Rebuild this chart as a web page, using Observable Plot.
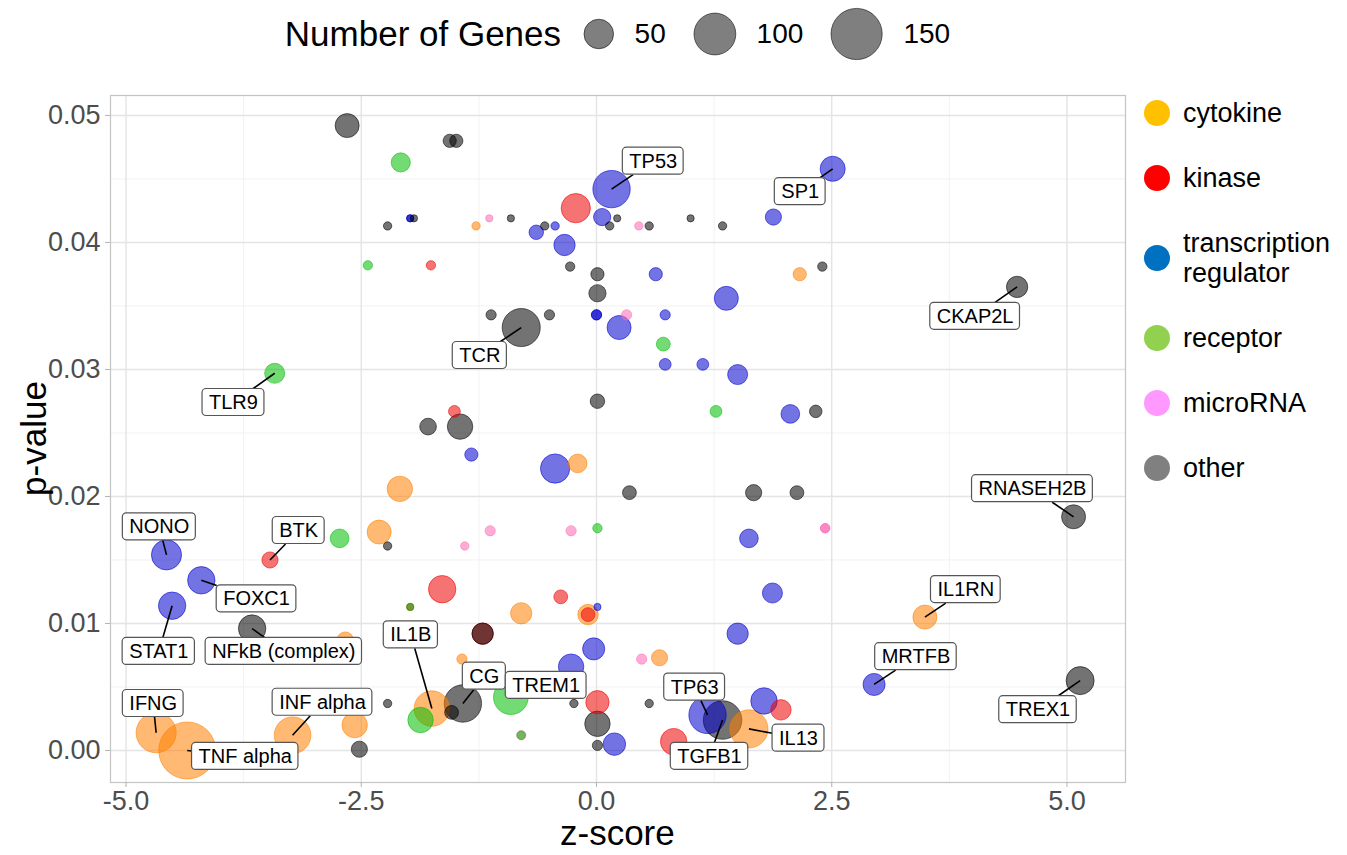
<!DOCTYPE html>
<html>
<head>
<meta charset="utf-8">
<script src="https://cdn.jsdelivr.net/npm/d3@7"></script>
<script src="https://cdn.jsdelivr.net/npm/@observablehq/plot@0.6"></script>
<style>
  body { margin: 0; background: #fff; font-family: "Liberation Sans", Arial, sans-serif; }
  #wrap { position: relative; width: 1347px; height: 855px; overflow: hidden; background: #fff; }
  #sizeLegend { position: absolute; left: 110px; width: 1015px; top: 0; height: 68px; display: flex; align-items: center; justify-content: center; }
  #sizeLegend .title { font-size: 35px; color: #000; }
  #sizeLegend .lab { font-size: 28px; color: #000; margin-left: 20px; }
  #sizeLegend svg { display: block; }
  #chart { position: absolute; left: 0; top: 70px; }
  #colorLegend { position: absolute; left: 1144px; top: 80px; }
  #colorLegend .item { display: flex; align-items: center; padding: 17.5px 0; }
  #colorLegend .sw { width: 26px; height: 26px; border-radius: 50%; flex: none; }
  #colorLegend .txt { font-size: 27px; line-height: 30px; margin-left: 13px; color: #000; }
  .axTitle { position: absolute; font-size: 35px; line-height: 35px; color: #000; white-space: nowrap; }
</style>
</head>
<body>
<div id="wrap">
  <div id="sizeLegend"></div>
  <div id="chart"></div>
  <div id="colorLegend"></div>
  <div class="axTitle" id="xTitle">z-score</div>
  <div class="axTitle" id="yTitle">p-value</div>
</div>
<script>
// ---------------- data ----------------
const categoryNames = ["cytokine", "kinase", "transcription regulator", "receptor", "microRNA", "other"];
const categoryCodes = ["C", "K", "T", "R", "M", "O"];
const pointColors  = ["#FF8000", "#EE0000", "#0000CD", "#00BE00", "#FF69B4", "#000000"];
const legendColors = ["#FFC000", "#FF0000", "#0070C0", "#92D050", "#FF99FF", "#808080"];
const legendLabels = ["cytokine", "kinase", "transcription\nregulator", "receptor", "microRNA", "other"];

const zScore = [
  -2.65, -1.56, -1.49, -2.08, 0.16, -0.22, 0.06, 2.51, 1.88, -2.22,
  -1.98, -1.98, -1.94, -1.28, -1.14, -0.91, -0.55, -0.44, -0.64, 0.14,
  0.22, 0.45, 0.56, 1.00, 1.34, -0.34, -2.43, -1.76, -0.28, 2.40,
  0.01, 0.63, 2.16, 0.01, 1.38, 4.47, -1.12, -0.50, 0.00, 0.00,
  0.32, 0.73, -0.80, 0.24, 0.71, 0.73, 1.13, 1.50, -3.42, 0.01,
  -1.51, 1.27, 2.06, 2.33, -1.79, -1.45, -1.33, -0.44, -0.20, -2.09,
  0.35, 1.67, 2.13, 5.07, -2.73, -2.31, -2.22, -1.13, -1.40, -0.27,
  0.01, 1.62, 2.43, 2.43, -4.57, -3.47, -4.20, -4.51, -1.64, 1.87,
  -1.98, -1.98, -0.38, -0.80, -0.09, -0.09, 0.01, 3.49, -3.66, -2.67,
  -1.21, -1.21, 1.50, -0.03, -1.43, 0.48, 0.67, -0.27, 2.95, 5.14,
  -4.68, -4.35, -3.23, -2.57, -2.52, -2.22, -1.75, -1.87, -1.54, -1.42,
  -0.91, -0.24, 0.01, 0.01, 0.01, 0.19, -0.80, -0.80, 0.56, 0.82,
  1.18, 1.34, 1.62, 1.78, 1.96
];
const pValue = [
  0.0492, 0.0480, 0.0480, 0.0463, 0.0442, 0.0427, 0.0420, 0.0458, 0.0420, 0.0413,
  0.0419, 0.0419, 0.0419, 0.0413, 0.0419, 0.0419, 0.0413, 0.0413, 0.0408, 0.0413,
  0.0419, 0.0413, 0.0413, 0.0419, 0.0413, 0.0398, 0.0382, 0.0382, 0.0381, 0.0381,
  0.0375, 0.0375, 0.0375, 0.0360, 0.0356, 0.0365, 0.0343, 0.0343, 0.0343, 0.0343,
  0.0343, 0.0343, 0.0333, 0.0333, 0.0320, 0.0304, 0.0304, 0.0296, 0.0297, 0.0275,
  0.0267, 0.0267, 0.0265, 0.0267, 0.0255, 0.0255, 0.0233, 0.0222, 0.0226, 0.0206,
  0.0203, 0.0203, 0.0203, 0.0184, 0.0167, 0.0172, 0.0161, 0.0173, 0.0161, 0.0173,
  0.0175, 0.0167, 0.0175, 0.0175, 0.0154, 0.0150, 0.0134, 0.0114, 0.0127, 0.0124,
  0.0113, 0.0113, 0.0121, 0.0108, 0.0107, 0.0107, 0.0113, 0.0105, 0.0096, 0.0087,
  0.0092, 0.0092, 0.0092, 0.0080, 0.0072, 0.0072, 0.0073, 0.0066, 0.0052, 0.0055,
  0.0014, 0.0000, 0.0012, 0.0020, 0.0001, 0.0037, 0.0033, 0.0024, 0.0030, 0.0037,
  0.0042, 0.0037, 0.0038, 0.0021, 0.0004, 0.0005, 0.0012, 0.0012, 0.0037, 0.0007,
  0.0028, 0.0024, 0.0017, 0.0039, 0.0032
];
const geneCount = [
  33, 10, 10, 21, 80, 49, 17, 36, 15, 4,
  3, 3, 3, 4, 3, 3, 4, 4, 12, 4,
  3, 4, 4, 3, 4, 26, 5, 5, 5, 5,
  10, 10, 10, 17, 33, 26, 6, 6, 6, 6,
  6, 6, 83, 33, 11, 8, 8, 23, 23, 12,
  8, 8, 20, 9, 16, 37, 10, 49, 20, 37,
  11, 15, 11, 33, 20, 33, 4, 6, 4, 6,
  5, 20, 5, 5, 52, 15, 43, 43, 43, 23,
  3, 3, 11, 26, 24, 11, 3, 33, 43, 15,
  26, 26, 26, 28, 6, 6, 15, 37, 28, 45,
  92, 186, 77, 37, 15, 4, 72, 37, 11, 80,
  69, 4, 31, 37, 6, 29, 5, 4, 4, 40,
  80, 85, 83, 40, 24
];
const category = [
  "O","O","O","R","T","K","T","T","T","O",
  "T","T","O","C","M","O","O","T","T","O",
  "O","M","O","O","O","T","R","K","O","O",
  "O","T","C","O","T","O","O","O","T","T",
  "M","T","O","T","R","T","T","T","R","O",
  "K","R","T","O","O","O","T","T","C","C",
  "O","O","O","O","R","C","O","M","M","M",
  "R","T","M","M","T","K","T","T","K","T",
  "K","R","K","C","C","K","T","C","O","C",
  "K","O","T","T","C","M","C","T","T","O",
  "C","C","C","C","O","O","C","R","O","O",
  "R","O","K","O","O","T","M","R","O","K",
  "T","O","C","T","K"
];
const geneName = [
  "","","","","TP53","","","SP1","","",
  "","","","","","","","","","",
  "","","","","","","","","","",
  "","","","","","CKAP2L","","","","",
  "","","TCR","","","","","","TLR9","",
  "","","","","","","","","","",
  "","","","RNASEH2B","","","","","","",
  "","","","","NONO","BTK","FOXC1","STAT1","","",
  "","","","","","","","IL1RN","NFkB (complex)","",
  "","","","","","","","","MRTFB","TREX1",
  "IFNG","TNF alpha","INF alpha","","","","IL1B","","","CG",
  "TREM1","","","","","","","","","",
  "TP63","TGFB1","IL13","",""
];

// label box centres (z-score, p-value units)
const labelName = ["TP53","SP1","TCR","CKAP2L","TLR9","RNASEH2B","NONO","BTK","FOXC1","STAT1",
  "NFkB (complex)","IL1B","IL1RN","IFNG","INF alpha","TNF alpha","CG","TREM1","TP63","TGFB1","IL13","MRTFB","TREX1"];
const labelZ = [0.603, 2.165, -1.24, 4.024, -3.858, 4.633, -4.646, -3.165, -3.613, -4.652,
  -3.323, -1.973, 3.925, -4.711, -2.912, -3.733, -1.192, -0.535, 1.043, 1.201, 2.147, 3.395, 4.692];
const labelP = [0.0464, 0.0440, 0.0311, 0.03418, 0.0274, 0.02061, 0.01761, 0.01732, 0.01194, 0.0078,
  0.0078, 0.00911, 0.01267, 0.0037, 0.0038, -0.00047, 0.00585, 0.00512, 0.00499, -0.00046, 0.00097, 0.00739, 0.00321];

const xTicks = [-5, -2.5, 0, 2.5, 5];
const xMinor = [-3.75, -1.25, 1.25, 3.75];
const yTicks = [0, 0.01, 0.02, 0.03, 0.04, 0.05];
const yMinor = [0.005, 0.015, 0.025, 0.035, 0.045];
const sizeLegendValues = [50, 100, 150];

// ---------------- layout ----------------
const xDomain = [-5.165, 5.622];
const yDomain = [-0.00252, 0.05157];
const W = 1130, H = 785, mL = 110, mR = 5, mT = 25, mB = 73;
const pxPerZ = (W - mL - mR) / (xDomain[1] - xDomain[0]);
const pxPerP = (H - mT - mB) / (yDomain[1] - yDomain[0]);
const labelFont = 20, padX = 6.5, boxH = 27;

const points = zScore.map((z, i) => ({
  z, p: pValue[i], n: geneCount[i],
  cat: categoryNames[categoryCodes.indexOf(category[i])],
  name: geneName[i]
}));

const ctx = document.createElement("canvas").getContext("2d");
ctx.font = `${labelFont}px "Liberation Sans"`;
const labels = labelName.map((name, i) => {
  const pt = points.find(d => d.name === name);
  const w = ctx.measureText(name).width + 2 * padX;
  const hw = w / 2 / pxPerZ, hh = boxH / 2 / pxPerP;
  const lz = labelZ[i], lp = labelP[i];
  const dx = lz - pt.z, dy = lp - pt.p;
  // segment from the point toward the label centre, stopping at the box edge
  const tx = Math.abs(dx) > hw ? 1 - hw / Math.abs(dx) : 0;
  const ty = Math.abs(dy) > hh ? 1 - hh / Math.abs(dy) : 0;
  const t = Math.max(tx, ty);
  const inside = Math.abs(dx) < hw && Math.abs(dy) < hh;
  return {name, lz, lp, x1: lz - hw, x2: lz + hw, y1: lp - hh, y2: lp + hh,
    pz: pt.z, pp: pt.p, ex: pt.z + t * dx, ey: pt.p + t * dy, inside};
});
const links = labels.filter(d => !d.inside);

const chart = Plot.plot({
  width: W, height: H,
  marginLeft: mL, marginRight: mR, marginTop: mT, marginBottom: mB,
  style: {fontFamily: '"Liberation Sans", Arial, sans-serif', background: "white", overflow: "visible"},
  x: {domain: xDomain, label: null},
  y: {domain: yDomain, label: null},
  r: {type: "sqrt", domain: [0, 150], range: [0, 25.6]},
  color: {domain: categoryNames, range: pointColors},
  marks: [
    Plot.ruleX(xMinor, {stroke: "#F2F2F2", strokeWidth: 1}),
    Plot.ruleY(yMinor, {stroke: "#F2F2F2", strokeWidth: 1}),
    Plot.ruleX(xTicks, {stroke: "#E4E4E4", strokeWidth: 1.4}),
    Plot.ruleY(yTicks, {stroke: "#E4E4E4", strokeWidth: 1.4}),
    Plot.frame({stroke: "#C4C4C4", strokeWidth: 1.2}),
    Plot.axisX({ticks: xTicks, tickFormat: d => d.toFixed(1), tickSize: 5, tickPadding: 3,
      fontSize: 27, stroke: "#B3B3B3", fill: "#4D4D4D", label: null}),
    Plot.axisY({ticks: yTicks, tickFormat: d => d.toFixed(2), tickSize: 5, tickPadding: 5,
      fontSize: 27, stroke: "#B3B3B3", fill: "#4D4D4D", label: null}),
    Plot.dot(points, {x: "z", y: "p", r: "n", fill: "cat", stroke: "cat",
      fillOpacity: 0.55, strokeOpacity: 0.55, strokeWidth: 1}),
    Plot.link(links, {x1: "pz", y1: "pp", x2: "ex", y2: "ey", stroke: "#000", strokeWidth: 1.6}),
    Plot.rect(labels, {x1: "x1", x2: "x2", y1: "y1", y2: "y2", fill: "white", stroke: "#555", strokeWidth: 1.2, rx: 4}),
    Plot.text(labels, {x: "lz", y: "lp", text: "name", fontSize: labelFont, fill: "#000"})
  ]
});
document.getElementById("chart").appendChild(chart);

// size legend (radii from the chart's own r scale)
const rScale = chart.scale("r");
const sl = document.getElementById("sizeLegend");
const t = document.createElement("span");
t.className = "title"; t.textContent = "Number of Genes";
sl.appendChild(t);
sizeLegendValues.forEach((v, i) => {
  const r = rScale.apply(v);
  const w = 2 * r + 2;
  const svg = d3.create("svg").attr("width", w).attr("height", 60);
  svg.append("circle").attr("cx", w / 2).attr("cy", 30).attr("r", r)
    .attr("fill", "#000").attr("fill-opacity", 0.5).attr("stroke", "#000").attr("stroke-opacity", 0.55);
  svg.node().style.marginLeft = (i === 0 ? 22 : 27) + "px";
  sl.appendChild(svg.node());
  const s = document.createElement("span");
  s.className = "lab"; s.textContent = v;
  sl.appendChild(s);
});

// colour legend
const cl = document.getElementById("colorLegend");
legendLabels.forEach((lab, i) => {
  const it = document.createElement("div"); it.className = "item";
  const sw = document.createElement("span"); sw.className = "sw"; sw.style.background = legendColors[i];
  const tx = document.createElement("span"); tx.className = "txt"; tx.innerHTML = lab.replace("\n", "<br>");
  it.appendChild(sw); it.appendChild(tx); cl.appendChild(it);
});

// axis titles
const xt = document.getElementById("xTitle");
xt.style.top = "815px";
xt.style.left = (mL + (W - mL - mR) / 2 - xt.offsetWidth / 2) + "px";
const yt = document.getElementById("yTitle");
const cy = 70 + mT + (H - mT - mB) / 2;
yt.style.left = (33 - yt.offsetWidth / 2) + "px";
yt.style.top = (cy - yt.offsetHeight / 2) + "px";
yt.style.transform = "rotate(-90deg)";
</script>
</body>
</html>
